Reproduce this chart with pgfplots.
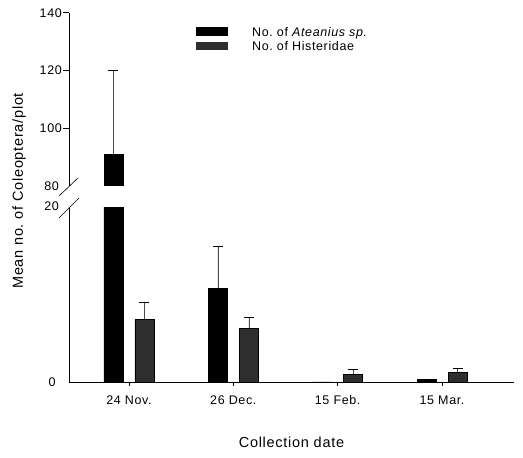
\documentclass[border=0pt]{standalone}
\usepackage{fontspec}
\setmainfont{Liberation Sans}[LetterSpace=5]
\usepackage{pgfplots}
\pgfplotsset{compat=1.18}
\newcommand{\tickfont}{\fontsize{12.5}{15}\selectfont}
\newcommand{\labfont}{\fontsize{14.5}{17}\selectfont}
\begin{document}
\begin{tikzpicture}[x=1pt,y=1pt]
\useasboundingbox (0,0) rectangle (523,458);
\pgfplotsset{
  common/.style={
    scale only axis, width=445pt, anchor=south west,
    xmin=-0.575, xmax=3.69,
    axis line style={line width=0.7pt},
    /pgf/number format/assume math mode=true,
    ticklabel style={font=\tickfont},
    tick style={black, line width=0.6pt},
    clip marker paths=true,
  },
  errstyle/.style={error bars/.cd, y dir=plus, y explicit,
    error bar style={line width=0.5pt, black!70},
    error mark options={rotate=90, mark size=5pt, line width=0.6pt, black}},
  barA/.style={ybar, bar width=19pt, bar shift=0pt, xshift=-15.5pt, fill=black, draw=black, errstyle},
  barB/.style={ybar, bar width=19pt, bar shift=0pt, xshift=15.5pt, fill=black!82, draw=black, errstyle},
}
% lower part of the broken axis
\begin{axis}[common,
  at={(69pt,76pt)}, height=174pt,
  ymin=0, ymax=20,
  axis x line*=bottom, axis y line*=left,
  xtick={0,1,2,3}, xticklabels={24 Nov., 26 Dec., 15 Feb., 15 Mar.},
  major tick length=4pt, tick align=outside,
  xticklabel style={yshift=-6pt},
  ytick={0}, y tick style={draw=none},
  yticklabel style={xshift=-6pt},
  xlabel={Collection date}, xlabel style={font=\labfont, at={(axis description cs:0.5,-0.345)}, anchor=center},
  ylabel={Mean no.\ of Coleoptera/plot}, ylabel style={font=\labfont, at={(axis description cs:-0.112,1.098)}, anchor=center},
]
\addplot[barA] coordinates {(0,91) +- (0,29) (1,10.75) +- (0,4.9) (2,0) +- (0,0) (3,0.3) +- (0,0)};
\addplot[barB] coordinates {(0,7.2) +- (0,2.0) (1,6.2) +- (0,1.2) (2,0.9) +- (0,0.6) (3,1.1) +- (0,0.5)};
\end{axis}
% upper part of the broken axis
\begin{axis}[common,
  at={(69pt,272pt)}, height=173.3pt,
  ymin=80, ymax=140,
  axis y line*=left, axis x line=none,
  ytick={100,120,140}, tick align=outside, major tick length=6pt,
  yticklabel style={inner sep=1pt},
  legend style={draw=none, fill=none, inner sep=0pt, at={(axis description cs:0.2854,0.9175)}, anchor=north west,
    nodes={inner sep=0pt, anchor=base west, font=\tickfont}, column sep=0pt, row sep=3.3pt},
  legend cell align=left,
]
\addplot[barA] coordinates {(0,91) +- (0,29)};
\addlegendimage{legend image code/.code={\fill[black, draw=none] (0pt,0pt) rectangle (32pt,9pt); \path[draw=none, fill=none] (0pt,0pt) -- (56pt,0pt);}}
\addlegendimage{legend image code/.code={\fill[black!82, draw=none] (0pt,0pt) rectangle (32pt,8pt); \path[draw=none, fill=none] (0pt,0pt) -- (56pt,0pt);}}
\legend{,No.\ of \textit{Ateanius sp.},No.\ of Histeridae}
\end{axis}
% axis break marks and their labels
\draw[line width=0.6pt] (59,262) -- (78,280);
\draw[line width=0.6pt] (59,240) -- (79,260);
\node[anchor=east, inner sep=0pt, font=\tickfont] at (59,272) {80};
\node[anchor=east, inner sep=0pt, font=\tickfont] at (59,252) {20};
\end{tikzpicture}
\end{document}
